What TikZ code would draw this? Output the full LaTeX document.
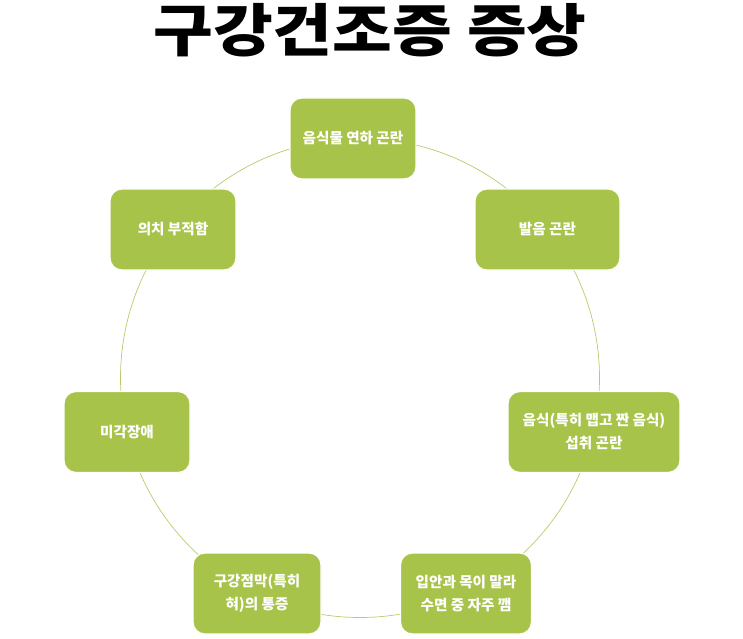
\documentclass[tikz,border=0pt]{standalone}
\usepackage{fontspec}
\setmainfont{Noto Sans CJK KR}
\usepackage{tikz}
\usetikzlibrary{backgrounds}
\definecolor{olive}{HTML}{A8C34A}
\definecolor{oliveline}{HTML}{B5CC6A}

\begin{document}
\begin{tikzpicture}[
  x=1pt,y=1pt,
  font=\fontsize{14.6}{23}\selectfont\bfseries,
  box/.style={draw=white,fill=olive,text=white,rounded corners=12pt,align=center,
              inner sep=3pt,minimum height=81pt,line width=1.2pt},
  ring/.style={draw=oliveline,line width=0.7pt}
]
\useasboundingbox (0,0) rectangle (743,638);

\node[font=\fontsize{57}{64}\selectfont\bfseries,xscale=1.14,inner sep=0pt,
      text height=44pt,text depth=4pt,anchor=base] (title) at (370,586) {구강건조증 증상};

\node[box,minimum width=126pt] (swallow) at (353,499.5) {음식물 연하 곤란};
\node[box,minimum width=145pt] (speech)  at (547.5,408.5) {발음 곤란};
\node[box,minimum width=172pt] (intake)  at (594,206) {음식(특히 맵고 짠 음식)\\섭취 곤란};
\node[box,minimum width=131pt] (sleep)   at (466,44.5) {입안과 목이 말라\\수면 중 자주 깸};
\node[box,minimum width=128pt] (mucosa)  at (257,44.5) {구강점막(특히\\혀)의 통증};
\node[box,minimum width=126pt] (taste)   at (127,206) {미각장애};
\node[box,minimum width=126pt] (denture) at (173,408.5) {의치 부적함};

\coordinate (ctr) at (360,260);
\begin{scope}[on background layer]
  \draw[ring] (ctr) circle[radius=239.5];
\end{scope}
\end{tikzpicture}
\end{document}
